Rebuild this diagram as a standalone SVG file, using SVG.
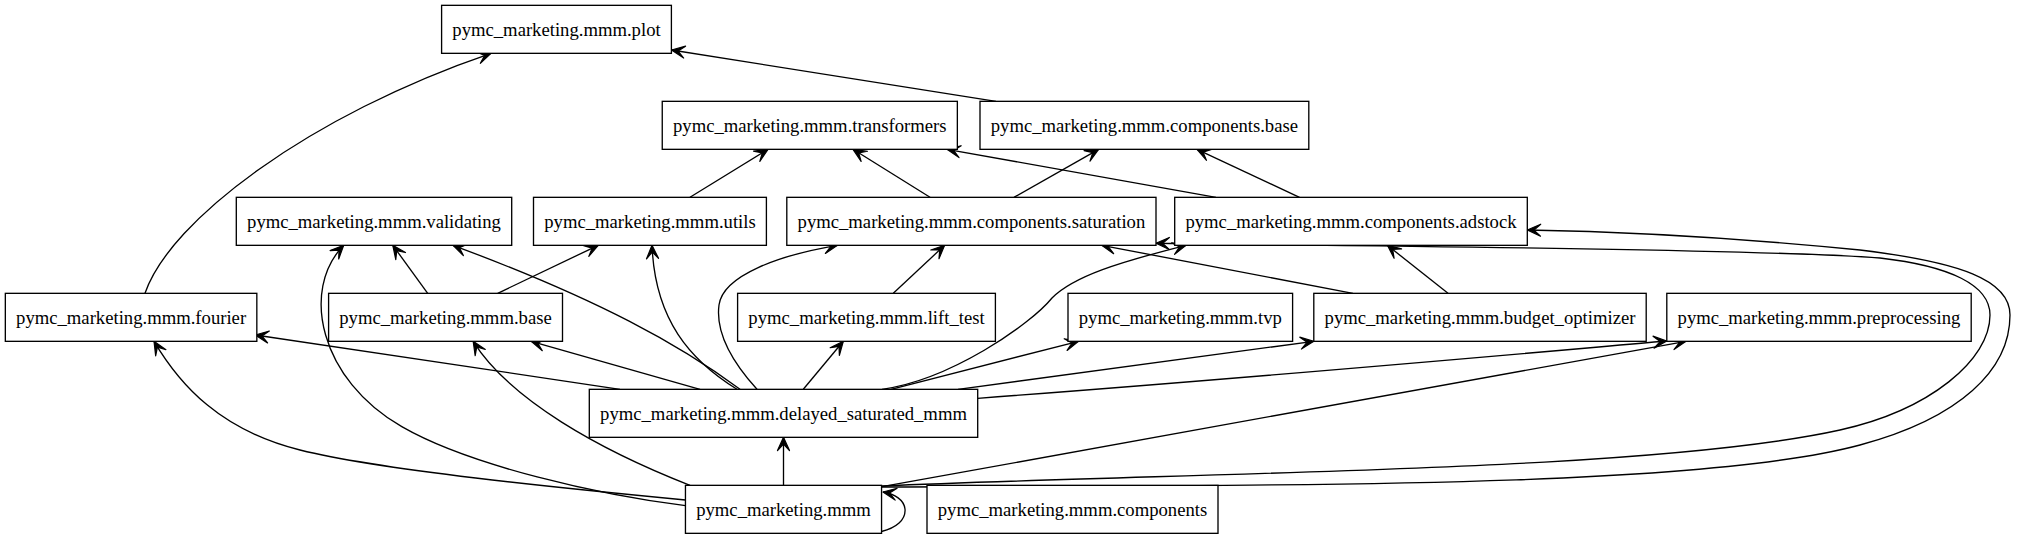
<svg xmlns="http://www.w3.org/2000/svg" width="2021" height="539" viewBox="0 0 2021 539">
<style>
.node rect{fill:#fff;stroke:#000;stroke-width:1.33}
.node text{font-family:"Liberation Serif","Times New Roman",serif;font-size:18.67px;text-anchor:middle;fill:#000}
.edges path{fill:none;stroke:#000;stroke-width:1.33;marker-end:url(#vee)}
</style>
<defs>
<marker id="vee" markerUnits="userSpaceOnUse" viewBox="-15 -8 16 16" refX="0" refY="0" markerWidth="16" markerHeight="16" orient="auto" overflow="visible">
<path d="M0,0 L-13.3,-6 L-6.7,0 L-13.3,6 Z" fill="#000" stroke="#000" stroke-width="1.2" stroke-linejoin="round"/>
</marker>
</defs>
<rect width="2021" height="539" fill="#fff"/>
<g class="edges">
<path d="M145,293.3 C170,220 310,115 491,53.3"/>
<path d="M996,101.3 L671.5,50"/>
<path d="M690,197.3 L768,149.3"/>
<path d="M930,197.3 L853,149.3"/>
<path d="M1014,197.3 L1098.6,149.3"/>
<path d="M1216,197.3 L947,149.3"/>
<path d="M1299.5,197.3 L1197,149.3"/>
<path d="M427.7,293.3 L392.8,245.3"/>
<path d="M497.7,293.3 L598.2,245.3"/>
<path d="M893.3,293.3 L944.6,245.3"/>
<path d="M1352.9,293.3 L1101.7,245.3"/>
<path d="M1448,293.3 L1387.4,245.3"/>
<path d="M620,389.3 L255.3,335"/>
<path d="M700,389.3 L531.2,341.3"/>
<path d="M740,389.3 C680,345 600,300 453,245.3"/>
<path d="M737,389.3 C690,360 655,320 652,245.3"/>
<path d="M757,389.3 C735,365 715,335 719,305 C723,275 780,255 837.5,245.3"/>
<path d="M803.3,389.3 L843.3,341.3"/>
<path d="M882,389.3 C950,380 1030,325 1052,298 C1074,276 1120,262 1186,245.3"/>
<path d="M891,389.3 L1078.5,341.3"/>
<path d="M958,389.3 L1313.8,341.3"/>
<path d="M977.7,398.3 C1250,378 1450,360 1666.8,341"/>
<path d="M882,487 C1300,485 1700,488 1860,445 C1960,418 2010,370 2010,315 C2010,280 1960,262 1860,250 C1760,240 1640,232 1527.3,230"/>
<path d="M882,486 C1200,472 1650,472 1840,430 C1930,410 1990,360 1990,315 C1990,285 1950,266 1880,258 C1780,250 1400,246 1156,243.3"/>
<path d="M882,486.7 L1686,341.3"/>
<path d="M685.5,500 C560,488 380,470 300,450 C220,430 180,385 154,341.3"/>
<path d="M685.5,505.7 C600,495 470,466 401.8,426.7 C320,380 300,290 343.7,245.3"/>
<path d="M690,485.3 C600,450 510,400 473.2,341.3"/>
<path d="M783.5,485.3 L783.5,437.3"/>
<path d="M881.5,531.5 C896,528 906,520 905,509 C904,500 895,494 883,492"/>
</g>
<g id="n_plot" class="node"><rect x="441.6" y="5.33" width="229.8" height="48"/><text x="556.5" y="36.3">pymc_marketing.mmm.plot</text></g>
<g id="n_transformers" class="node"><rect x="662.25" y="101.33" width="295.1" height="48"/><text x="809.8" y="132.3">pymc_marketing.mmm.transformers</text></g>
<g id="n_components_base" class="node"><rect x="980" y="101.33" width="328.8" height="48"/><text x="1144.4" y="132.3">pymc_marketing.mmm.components.base</text></g>
<g id="n_validating" class="node"><rect x="236.3" y="197.33" width="275.4" height="48"/><text x="374" y="228.3">pymc_marketing.mmm.validating</text></g>
<g id="n_utils" class="node"><rect x="533.5" y="197.33" width="232.9" height="48"/><text x="650" y="228.3">pymc_marketing.mmm.utils</text></g>
<g id="n_saturation" class="node"><rect x="786.8" y="197.33" width="369.2" height="48"/><text x="971.4" y="228.3">pymc_marketing.mmm.components.saturation</text></g>
<g id="n_adstock" class="node"><rect x="1174.7" y="197.33" width="352.6" height="48"/><text x="1351" y="228.3">pymc_marketing.mmm.components.adstock</text></g>
<g id="n_fourier" class="node"><rect x="5.33" y="293.33" width="251.5" height="48"/><text x="131.1" y="324.3">pymc_marketing.mmm.fourier</text></g>
<g id="n_base" class="node"><rect x="328.6" y="293.33" width="233.9" height="48"/><text x="445.5" y="324.3">pymc_marketing.mmm.base</text></g>
<g id="n_lift_test" class="node"><rect x="737.6" y="293.33" width="257.8" height="48"/><text x="866.5" y="324.3">pymc_marketing.mmm.lift_test</text></g>
<g id="n_tvp" class="node"><rect x="1068" y="293.33" width="224.6" height="48"/><text x="1180.3" y="324.3">pymc_marketing.mmm.tvp</text></g>
<g id="n_budget_optimizer" class="node"><rect x="1313.8" y="293.33" width="332.4" height="48"/><text x="1480" y="324.3">pymc_marketing.mmm.budget_optimizer</text></g>
<g id="n_preprocessing" class="node"><rect x="1666.8" y="293.33" width="304.4" height="48"/><text x="1819" y="324.3">pymc_marketing.mmm.preprocessing</text></g>
<g id="n_delayed_saturated_mmm" class="node"><rect x="589.3" y="389.33" width="388.4" height="48"/><text x="783.5" y="420.3">pymc_marketing.mmm.delayed_saturated_mmm</text></g>
<g id="n_mmm" class="node"><rect x="685.45" y="485.33" width="196.1" height="48"/><text x="783.5" y="516.3">pymc_marketing.mmm</text></g>
<g id="n_components" class="node"><rect x="927" y="485.33" width="291" height="48"/><text x="1072.5" y="516.3">pymc_marketing.mmm.components</text></g>
</svg>
